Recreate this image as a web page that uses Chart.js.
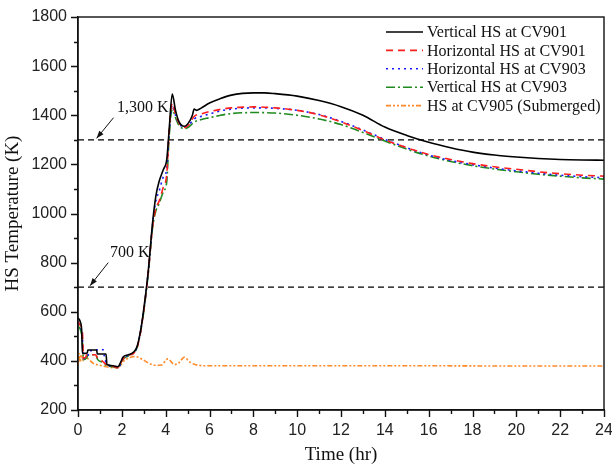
<!DOCTYPE html>
<html>
<head>
<meta charset="utf-8">
<script src="https://cdn.jsdelivr.net/npm/chart.js@4.4.0/dist/chart.umd.min.js"></script>
<style>
  html, body { margin: 0; padding: 0; background: #fff; }
  #wrap { width: 612px; height: 468px; }
</style>
</head>
<body>
<div id="wrap"><canvas id="hsChart" width="612" height="468"></canvas></div>
<script>
// HS temperature vs time, five heat structures + two reference levels.

const seriesNames = [
  'Vertical HS at CV901',
  'Horizontal HS at CV901',
  'Horizontal HS at CV903',
  'Vertical HS at CV903',
  'HS at CV905 (Submerged)',
];

const timeV901 = [0, 0.1, 0.17, 0.2, 0.42, 0.45, 0.85, 0.88, 1.28, 1.32, 1.6, 1.82, 1.95, 2.05, 2.3, 2.55, 2.7, 2.85, 3.0, 3.2, 3.4, 3.55, 3.7, 3.9, 4.05, 4.15, 4.3, 4.45, 4.6, 4.85, 5.05, 5.22, 5.3, 5.4, 5.6, 6, 6.5, 7, 7.5, 8, 8.5, 9, 10, 11, 12, 13, 14, 15, 16, 17, 18, 19, 20, 21, 22, 23, 24];
const tempV901 = [575, 560, 520, 430, 432, 444, 444, 428, 428, 385, 380, 376, 395, 415, 425, 437, 460, 520, 610, 760, 960, 1070, 1130, 1180, 1220, 1330, 1486, 1420, 1375, 1355, 1370, 1400, 1425, 1420, 1428, 1450, 1468, 1482, 1489, 1491, 1491, 1488, 1478, 1460, 1435, 1400, 1352, 1318, 1290, 1268, 1250, 1238, 1230, 1224, 1220, 1218, 1217];

const timeH901 = [0, 0.1, 0.2, 0.25, 0.35, 0.4, 0.8, 0.9, 1.1, 1.3, 1.6, 1.85, 2.0, 2.1, 2.3, 2.55, 2.7, 2.85, 3.0, 3.2, 3.4, 3.55, 3.7, 3.9, 4.05, 4.15, 4.3, 4.45, 4.6, 4.85, 5.05, 5.3, 5.6, 6, 6.5, 7, 7.5, 8, 9, 10, 11, 12, 13, 14, 15, 16, 17, 18, 19, 20, 21, 22, 23, 24];
const tempH901 = [560, 545, 520, 412, 415, 425, 425, 410, 400, 385, 378, 372, 400, 412, 422, 432, 455, 515, 605, 755, 945, 1020, 1050, 1110, 1160, 1320, 1450, 1405, 1370, 1350, 1360, 1395, 1405, 1415, 1424, 1430, 1433, 1434, 1430, 1420, 1402, 1373, 1338, 1300, 1268, 1240, 1220, 1203, 1190, 1180, 1170, 1162, 1156, 1152];

const timeH903 = [0, 0.1, 0.2, 0.25, 0.45, 0.5, 1.15, 1.2, 1.3, 1.6, 1.85, 2.0, 2.1, 2.3, 2.55, 2.7, 2.85, 3.0, 3.2, 3.4, 3.55, 3.7, 3.9, 4.05, 4.15, 4.3, 4.45, 4.6, 4.85, 5.05, 5.3, 5.6, 6, 6.5, 7, 7.5, 8, 9, 10, 11, 12, 13, 14, 15, 16, 17, 18, 19, 20, 21, 22, 23, 24];
const tempH903 = [555, 540, 500, 410, 420, 440, 445, 420, 390, 378, 373, 402, 414, 423, 434, 458, 518, 607, 758, 955, 1050, 1090, 1150, 1180, 1320, 1440, 1400, 1368, 1352, 1360, 1385, 1395, 1405, 1418, 1425, 1429, 1430, 1428, 1420, 1403, 1375, 1340, 1302, 1268, 1238, 1216, 1199, 1185, 1174, 1164, 1156, 1150, 1146];

const timeV903 = [0, 0.1, 0.2, 0.25, 0.4, 0.45, 0.8, 0.9, 1.1, 1.3, 1.6, 1.85, 2.0, 2.1, 2.3, 2.55, 2.7, 2.85, 3.0, 3.2, 3.4, 3.55, 3.7, 3.9, 4.05, 4.15, 4.3, 4.45, 4.6, 4.85, 5.05, 5.3, 5.6, 6, 6.5, 7, 7.5, 8, 9, 10, 11, 12, 13, 14, 15, 16, 17, 18, 19, 20, 21, 22, 23, 24];
const tempV903 = [540, 530, 480, 405, 412, 425, 425, 405, 395, 382, 376, 372, 398, 410, 420, 432, 455, 515, 600, 750, 940, 1010, 1040, 1090, 1130, 1300, 1425, 1390, 1360, 1345, 1352, 1372, 1382, 1390, 1400, 1407, 1410, 1411, 1409, 1400, 1385, 1362, 1330, 1295, 1262, 1234, 1212, 1195, 1181, 1170, 1160, 1152, 1145, 1140];

const timeS905 = [0, 0.05, 0.1, 0.15, 0.25, 0.35, 0.5, 0.7, 1.0, 1.3, 1.6, 1.85, 2.1, 2.4, 2.6, 2.9, 3.2, 3.5, 3.8, 4.1, 4.4, 4.6, 4.85, 5.1, 5.5, 6, 8, 12, 16, 20, 24];
const tempS905 = [380, 430, 395, 425, 400, 415, 405, 390, 382, 376, 372, 375, 400, 415, 418, 408, 392, 382, 383, 408, 385, 392, 415, 395, 382, 380, 380, 380, 380, 379, 379];

const refLevels = [1300, 700];
const refLabels = ['1,300 K', '700 K'];
const xTicks = { min: 0, max: 24, step: 2 };
const yTicks = { min: 200, max: 1800, step: 200 };

const seriesStyle = [
  { color: '#000000', dash: [] },
  { color: '#ff1f1f', dash: [7, 5] },
  { color: '#1a1aff', dash: [2, 4] },
  { color: '#1f8a1f', dash: [9, 3, 2, 3] },
  { color: '#ff8a2a', dash: [5, 2, 2, 2, 2, 2] },
];

const pairs = (ts, vs) => ts.map((t, i) => ({ x: t, y: vs[i] }));
const seriesData = [
  pairs(timeV901, tempV901),
  pairs(timeH901, tempH901),
  pairs(timeH903, tempH903),
  pairs(timeV903, tempV903),
  pairs(timeS905, tempS905),
];

const datasets = seriesData.map((d, i) => ({
  label: seriesNames[i],
  data: d,
  borderColor: seriesStyle[i].color,
  borderDash: seriesStyle[i].dash,
  borderWidth: 1.6,
  pointRadius: 0,
  cubicInterpolationMode: 'monotone',
  fill: false,
}));

refLevels.forEach((lvl) => {
  datasets.push({
    label: '',
    data: [{ x: xTicks.min, y: lvl }, { x: xTicks.max, y: lvl }],
    borderColor: '#000',
    borderDash: [6, 4],
    borderWidth: 1.2,
    pointRadius: 0,
    fill: false,
  });
});

// annotation anchors in data units (text left/centre, arrow start, arrow tip)
const annots = [
  { text: refLabels[0], tx: 1.78, ty: 1430, ax: 1.62, ay: 1390, bx: 0.85, by: 1306 },
  { text: refLabels[1], tx: 1.46, ty: 840, ax: 1.38, ay: 800, bx: 0.55, by: 706 },
];

const serif = "'Liberation Serif', 'Times New Roman', serif";
const sans = "'Liberation Sans', Arial, sans-serif";

const decorPlugin = {
  id: 'decor',
  afterDraw(chart) {
    const { ctx, chartArea: a, scales: { x, y } } = chart;
    ctx.save();
    ctx.strokeStyle = '#111';
    ctx.lineWidth = 1.4;
    ctx.setLineDash([]);
    // frame
    ctx.strokeRect(a.left, a.top, a.right - a.left, a.bottom - a.top);
    // ticks, major + minor, pointing out
    ctx.beginPath();
    for (let v = xTicks.min; v <= xTicks.max; v += xTicks.step / 2) {
      const px = Math.round(x.getPixelForValue(v)) + 0.5;
      const len = v % xTicks.step === 0 ? 7 : 4;
      ctx.moveTo(px, a.bottom);
      ctx.lineTo(px, a.bottom + len);
    }
    for (let v = yTicks.min; v <= yTicks.max; v += yTicks.step / 2) {
      const py = Math.round(y.getPixelForValue(v)) + 0.5;
      const len = v % yTicks.step === 0 ? 7 : 4;
      ctx.moveTo(a.left - len, py);
      ctx.lineTo(a.left, py);
    }
    ctx.stroke();

    // annotations
    ctx.fillStyle = '#111';
    ctx.font = `16px ${serif}`;
    ctx.textBaseline = 'middle';
    ctx.textAlign = 'left';
    ctx.lineWidth = 1;
    annots.forEach((an) => {
      ctx.fillText(an.text, x.getPixelForValue(an.tx), y.getPixelForValue(an.ty));
      const x0 = x.getPixelForValue(an.ax), y0 = y.getPixelForValue(an.ay);
      const x1 = x.getPixelForValue(an.bx), y1 = y.getPixelForValue(an.by);
      const ang = Math.atan2(y1 - y0, x1 - x0);
      ctx.beginPath();
      ctx.moveTo(x0, y0);
      ctx.lineTo(x1, y1);
      ctx.stroke();
      ctx.beginPath();
      ctx.moveTo(x1, y1);
      ctx.lineTo(x1 - 8 * Math.cos(ang - 0.35), y1 - 8 * Math.sin(ang - 0.35));
      ctx.lineTo(x1 - 8 * Math.cos(ang + 0.35), y1 - 8 * Math.sin(ang + 0.35));
      ctx.closePath();
      ctx.fill();
    });

    // legend, top right inside plot
    const lx = a.right - 218, ly = a.top + 15, rowH = 18.4;
    ctx.font = `16px ${serif}`;
    seriesNames.forEach((name, i) => {
      const yy = ly + i * rowH;
      ctx.strokeStyle = seriesStyle[i].color;
      ctx.setLineDash(seriesStyle[i].dash);
      ctx.lineWidth = 1.6;
      ctx.beginPath();
      ctx.moveTo(lx, yy);
      ctx.lineTo(lx + 37, yy);
      ctx.stroke();
      ctx.setLineDash([]);
      ctx.fillStyle = '#111';
      ctx.fillText(name, lx + 41, yy + 1);
    });
    ctx.restore();
  },
};

const plainTick = (v) => String(v);

new Chart(document.getElementById('hsChart'), {
  type: 'line',
  data: { datasets },
  options: {
    responsive: false,
    animation: false,
    layout: { padding: { top: 17, right: 8, left: 0, bottom: 0 } },
    plugins: {
      legend: { display: false },
      tooltip: { enabled: false },
    },
    scales: {
      x: {
        type: 'linear',
        min: xTicks.min,
        max: xTicks.max,
        afterFit: (s) => { s.height = 58; s.paddingLeft = 0; s.paddingRight = 0; },
        grid: { display: false, drawTicks: false },
        border: { color: '#111', width: 1.4 },
        ticks: { stepSize: xTicks.step, padding: 11, color: '#222', font: { family: sans, size: 16 }, callback: plainTick },
        title: { display: true, text: 'Time (hr)', color: '#111', font: { family: serif, size: 19 }, padding: { top: 0, bottom: 2 } },
      },
      y: {
        min: yTicks.min,
        max: yTicks.max,
        afterFit: (s) => { s.width = 78; s.paddingTop = 0; s.paddingBottom = 0; },
        grid: { display: false, drawTicks: false },
        border: { color: '#111', width: 1.4 },
        ticks: { stepSize: yTicks.step, padding: 11, color: '#222', font: { family: sans, size: 16 }, callback: plainTick },
        title: { display: true, text: 'HS Temperature (K)', color: '#111', font: { family: serif, size: 19 }, padding: { top: 2, bottom: 0 } },
      },
    },
  },
  plugins: [decorPlugin],
});
</script>
</body>
</html>
